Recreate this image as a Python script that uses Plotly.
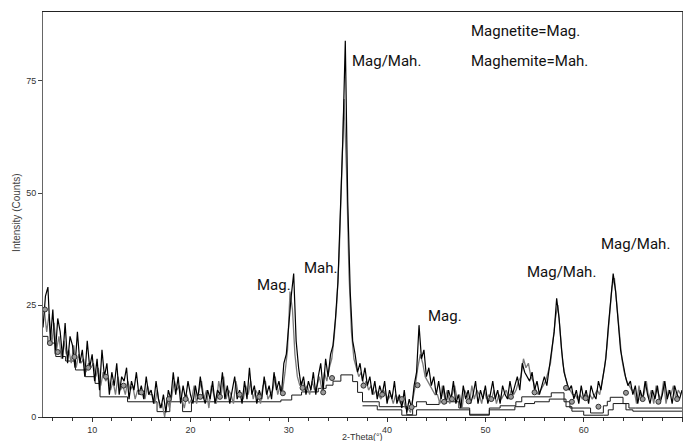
import numpy as np
import plotly.graph_objects as go

# 2-theta grid of the scans (degrees)
theta_start, theta_end, theta_step = 5.0, 70.0, 0.25

# Sample scan (black), counts at 5.00, 5.25, ... 70.00
counts_sample = [
    20, 27, 29, 17, 24, 14, 22, 19, 13, 21, 12, 18, 16, 11, 19, 12, 15, 9, 17, 11,      # 5-9.75
    14, 8, 13, 6, 15, 9, 12, 5, 10, 7, 12, 5, 9, 8, 11, 4, 8, 6, 10, 5,                 # 10-14.75
    7, 4, 9, 5, 6, 3, 8, 4, 2, 5, 1, 6, 4, 10, 5, 9, 3, 7, 4, 8,                        # 15-19.75
    5, 3, 7, 4, 9, 5, 3, 6, 4, 8, 3, 6, 5, 10, 4, 7, 3, 6, 9, 4,                        # 20-24.75
    6, 3, 8, 4, 11, 5, 7, 3, 6, 4, 9, 5, 7, 4, 10, 6, 8, 5, 12, 14,                     # 25-29.75
    21, 27, 32, 17, 11, 7, 9, 5, 8, 6, 10, 5, 9, 12, 6, 13, 9, 14, 16, 22,              # 30-34.75
    30, 44, 62, 84, 48, 28, 17, 14, 10, 12, 8, 11, 7, 9, 5, 8, 4, 7, 5, 8,              # 35-39.75
    3, 6, 4, 8, 3, 5, 2, 6, 1, 4, 2, 7, 10, 20.5, 13, 15, 9, 11, 7, 9,                  # 40-44.75
    5, 8, 4, 7, 3, 6, 4, 8, 3, 5, 2, 7, 4, 6, 3, 5, 8, 3, 6, 4,                         # 45-49.75
    7, 3, 5, 8, 4, 6, 3, 7, 5, 4, 8, 5, 7, 9, 6, 12, 10, 9, 8, 10,                      # 50-54.75
    6, 8, 5, 7, 9, 7, 11, 14, 19, 26.5, 22, 15, 10, 8, 6, 7, 4, 6, 3, 7,                # 55-59.75
    4, 6, 3, 7, 5, 4, 8, 6, 10, 13, 20, 27, 32, 28, 21, 15, 12, 9, 7, 8,                # 60-64.75
    5, 7, 3, 6, 4, 8, 5, 3, 6, 4, 7, 3, 5, 8, 4, 6, 3, 7, 5, 4, 6,                      # 65-70
]

# Second scan (grey), counts at 5.125, 5.375, ... 69.875
counts_second = [
    24, 19, 23, 16, 21, 15, 18, 13, 17, 14, 15, 12, 16, 11, 14, 12, 13, 10, 12, 11,
    12, 9, 11, 7, 10, 8, 9, 6, 8, 5, 9, 6, 7, 5, 8, 6, 7, 4, 6, 5,
    6, 4, 7, 5, 5, 3, 6, 2, 3, 0, 4, 2, 5, 8, 6, 7, 4, 2, 5, 3,
    4, 7, 3, 6, 8, 4, 6, 2, 7, 5, 3, 8, 5, 9, 4, 6, 5, 3, 8, 5,
    5, 4, 7, 5, 8, 4, 6, 5, 3, 7, 8, 4, 5, 6, 9, 5, 7, 6, 10, 15,
    28, 24, 14, 9, 7, 8, 6, 7, 5, 8, 6, 7, 9, 6, 10, 8, 11, 13, 18, 25,
    36, 52, 71, 55, 32, 19, 13, 11, 9, 10, 7, 8, 6, 7, 5, 6, 5, 4, 6, 5,
    4, 5, 3, 5, 4, 3, 4, 2, 2, 1, 4, 7, 11, 14, 12, 9, 8, 7, 6, 5,
    5, 3, 7, 4, 6, 3, 5, 7, 4, 5, 2, 6, 5, 3, 7, 4, 6, 5, 3, 6,
    4, 5, 4, 6, 3, 5, 4, 5, 6, 4, 6, 5, 6, 8, 9, 13, 11, 12, 9, 8,
    6, 5, 6, 7, 8, 10, 12, 17, 22, 25, 18, 12, 9, 7, 6, 5, 5, 4, 5, 4,
    5, 4, 5, 4, 5, 6, 5, 8, 11, 16, 23, 29, 31, 25, 18, 13, 10, 8, 7, 6,
    6, 3, 7, 4, 5, 8, 4, 6, 3, 7, 5, 4, 8, 3, 6, 5, 7, 4, 6, 5,
]

# Smoothed points of the second scan (grey circles)
smooth_theta = [5.2, 5.7, 6.5, 8.2, 9.6, 11.4, 13.2, 15.0, 17.8, 19.5, 21.0, 23.0,
                25.0, 27.0, 29.4, 31.4, 33.5, 34.4, 37.6, 39.5, 41.5, 42.5, 43.1,
                45.8, 46.6, 48.3, 50.6, 52.6, 55.0, 58.2, 58.8, 60.2, 61.5, 64.3,
                66.0, 67.6, 69.5]
smooth_counts = [24, 16.5, 14.5, 13.4, 11, 9, 7, 5.5, 4, 4, 4.5, 4.5,
                 5, 4.5, 5.3, 6.5, 5.5, 8.7, 7, 5, 4, 2.2, 7.1,
                 3.4, 4, 3.5, 4, 4.5, 5.5, 6.5, 3.4, 4.2, 2.3, 5.4,
                 4, 3.4, 4]

# Fitted background (step profile)
bg_theta = [5.0, 5.5, 6.3, 7.3, 8.3, 9.3, 10.3, 10.8, 13.6, 16.6, 17.9, 19.2, 20.1,
            29.2, 30.3, 31.3, 33.0, 33.8, 34.5, 35.3, 36.5, 37.0, 37.5, 39.2, 42.0,
            42.6, 43.0, 44.0, 45.3, 47.3, 48.4, 50.4, 51.5, 53.1, 53.7, 56.7, 58.0,
            58.6, 60.7, 62.0, 62.4, 62.7, 64.0, 64.6, 65.3, 70.0]
bg_counts = [18, 16.5, 13.5, 12.5, 10.5, 9, 7.5, 4.5, 3.4, 1.2, 3.4, 1.2, 3.4,
             3.8, 4.9, 5.6, 6.4, 7.1, 8.0, 9.4, 7.9, 5.5, 3.4, 2.3, 0.5,
             2.3, 3.4, 2.8, 3.4, 2.0, 0.6, 2.0, 2.5, 3.4, 4.5, 5.4, 3.4,
             2.0, 0.9, 2.5, 3.5, 4.4, 3.0, 2.0, 2.0, 2.0]

# Lower background of the second scan
bg2_theta = [37.5, 39.0, 41.5, 43.0, 45.3, 48.4, 50.4, 53.0, 54.0, 55.0, 56.5,
             58.2, 58.8, 60.0, 62.0, 62.5, 63.0, 64.3, 65.0, 70.0]
bg2_counts = [2.5, 1.6, 0.4, 1.6, 1.6, 0.4, 1.6, 2.3, 3.0, 3.4, 4.0,
              2.3, 1.3, 0.4, 0.4, 1.6, 3.0, 1.6, 1.3, 1.3]

# Phase labels: (text, 2-theta, counts)
phase_labels = [
    ("Mag/Mah.", 36.27, 79.5),
    ("Mag.", 26.6, 29.5),
    ("Mah.", 31.3, 33.3),
    ("Mag.", 43.98, 22.5),
    ("Mag/Mah.", 54.04, 32.4),
    ("Mag/Mah.", 61.55, 38.6),
]
legend_lines = [("Magnetite=Mag.", 48.35, 86.2), ("Maghemite=Mah.", 48.35, 79.5)]

x_ticks = [10, 20, 30, 40, 50, 60, 70]
y_ticks = [0, 25, 50, 75]

theta = np.round(np.arange(theta_start, theta_end + 1e-9, theta_step), 3)
theta_second = theta[:-1] + theta_step / 2

label_font = dict(family="Roboto, sans-serif", size=15, color="#111111")

fig = go.Figure()
fig.add_trace(go.Scatter(x=bg_theta, y=bg_counts, mode="lines", line_shape="hv",
                         line=dict(color="#1a1a1a", width=1), hoverinfo="skip"))
fig.add_trace(go.Scatter(x=bg2_theta, y=bg2_counts, mode="lines", line_shape="hv",
                         line=dict(color="#1a1a1a", width=1), hoverinfo="skip"))
fig.add_trace(go.Scatter(x=theta_second, y=counts_second, mode="lines",
                         line=dict(color="#7a7a7a", width=1.3)))
fig.add_trace(go.Scatter(x=theta, y=counts_sample, mode="lines",
                         line=dict(color="#000000", width=1.2)))
fig.add_trace(go.Scatter(x=smooth_theta, y=smooth_counts, mode="markers",
                         marker=dict(size=5, color="#9a9a9a",
                                     line=dict(color="#333333", width=1))))

for text, x, y in phase_labels + legend_lines:
    fig.add_annotation(x=x, y=y, text=text, showarrow=False, xanchor="left",
                       yanchor="middle", font=label_font)

fig.add_annotation(x=0.5, y=0, xref="paper", yref="paper", text="2-Theta(°)",
                   showarrow=False, yanchor="top", yshift=-13,
                   font=dict(family="Arial, Liberation Sans, sans-serif", size=9, color="#333333"))
fig.add_annotation(x=0, y=0.504, xref="paper", yref="paper", text="Intensity (Counts)",
                   showarrow=False, textangle=-90, xanchor="center", xshift=-26,
                   font=dict(family="Arial, Liberation Sans, sans-serif", size=10, color="#444444"))

fig.update_layout(
    width=686, height=441,
    margin=dict(l=43, r=4, t=12, b=24),
    showlegend=False,
    plot_bgcolor="white", paper_bgcolor="white",
    xaxis=dict(range=[theta_start, theta_end], tickvals=x_ticks, ticks="outside",
               ticklen=4, tickcolor="#333333", showgrid=False, zeroline=False,
               showline=True, linecolor="#222222", linewidth=1, mirror=True,
               minor=dict(dtick=2, tick0=0, ticks="outside", ticklen=3, tickcolor="#333333"),
               tickfont=dict(family="Arial, Liberation Sans, sans-serif", size=9, color="#333333")),
    yaxis=dict(range=[0, 90.4], tickvals=y_ticks, ticks="outside", ticklen=4,
               tickcolor="#444444", showgrid=False, zeroline=False, showline=True,
               linecolor="#666666", linewidth=1, mirror=True,
               tickfont=dict(family="Arial, Liberation Sans, sans-serif", size=9, color="#333333")),
)

fig.write_html("out.html")
